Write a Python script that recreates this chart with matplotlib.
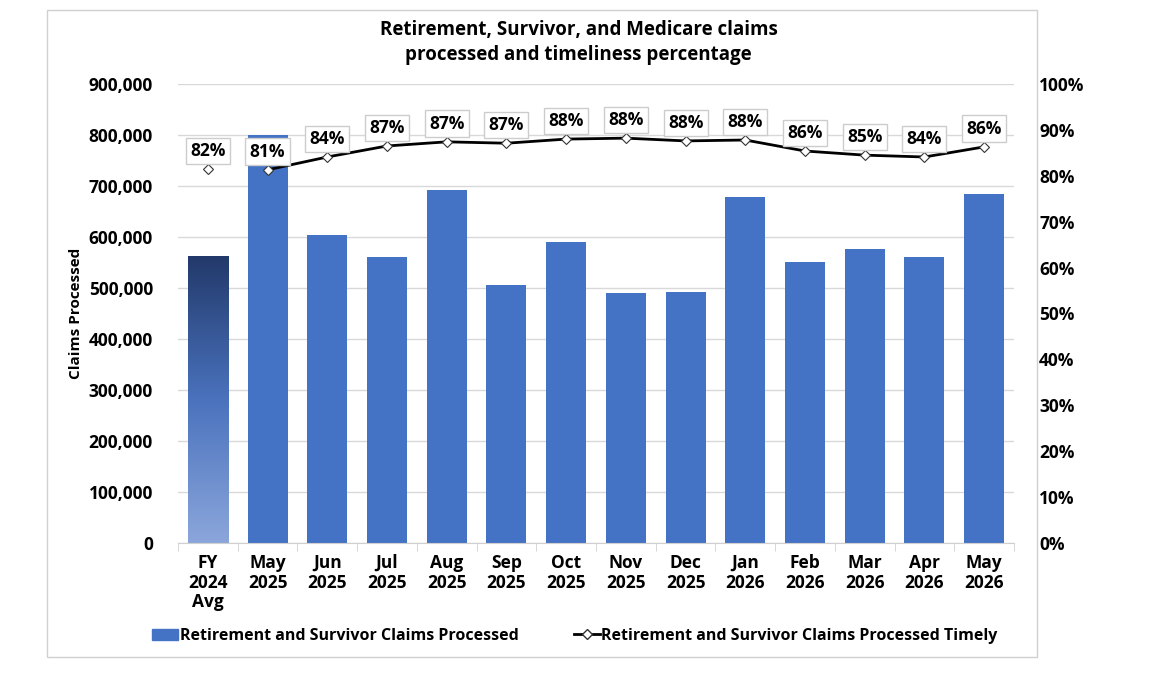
import matplotlib.pyplot as plt
import numpy as np
from matplotlib.patches import Rectangle
from matplotlib.colors import LinearSegmentedColormap
from matplotlib.ticker import FuncFormatter, FixedLocator

plt.rcParams['font.family'] = ['Open Sans', 'DejaVu Sans']

# data
categories = ["FY\n2024\nAvg", "May\n2025", "Jun\n2025", "Jul\n2025", "Aug\n2025", "Sep\n2025",
              "Oct\n2025", "Nov\n2025", "Dec\n2025", "Jan\n2026", "Feb\n2026", "Mar\n2026",
              "Apr\n2026", "May\n2026"]
claims = [563000, 800000, 604000, 561000, 692000, 506000, 590000, 490000, 492000,
          678000, 551000, 576000, 561000, 684000]
timely = [81.5, 81.3, 84.1, 86.5, 87.4, 87.1, 88.0, 88.2, 87.6, 87.8, 85.4, 84.5, 84.1, 86.3]
timely_labels = ["82%", "81%", "84%", "87%", "87%", "87%", "88%", "88%", "88%", "88%",
                 "86%", "85%", "84%", "86%"]

bar_color = "#4472C4"

fig = plt.figure(figsize=(11.57, 6.75), dpi=100)
fig.patches.append(Rectangle((47 / 1157, 1 - 657 / 675), 990 / 1157, 647 / 675,
                             transform=fig.transFigure, fill=False, edgecolor="#d0d0d0", lw=1))

ax = fig.add_axes([178 / 1157, 1 - 543 / 675, 836 / 1157, 459 / 675])
x = np.arange(len(categories))
bars = ax.bar(x, claims, width=0.67, color=bar_color, zorder=2)

# gradient for the FY average bar
b0 = bars[0]
b0.set_facecolor("none")
cmap = LinearSegmentedColormap.from_list("g", ["#8ba6db", "#4a72bd", "#22396a"])
grad = np.linspace(0, 1, 256).reshape(-1, 1)
im = ax.imshow(grad, cmap=cmap, aspect="auto", origin="lower",
               extent=(b0.get_x(), b0.get_x() + b0.get_width(), 0, b0.get_height()), zorder=2)
im.set_clip_path(b0)

ax.set_xlim(-0.5, len(categories) - 0.5)
ax.set_ylim(0, 900000)
ax.set_yticks(np.arange(0, 900001, 100000))
ax.yaxis.set_major_formatter(FuncFormatter(lambda v, p: f"{int(v):,}"))
ax.grid(axis="y", color="#d9d9d9", lw=1, zorder=0)
ax.set_xticks(x)
ax.set_xticklabels(categories, fontsize=12.5, fontweight="bold", linespacing=1.1)
ax.xaxis.set_minor_locator(FixedLocator(np.arange(-0.5, len(categories), 1)))
ax.tick_params(axis="x", which="major", length=0, pad=8)
ax.tick_params(axis="x", which="minor", length=6, color="#d0d0d0")
ax.tick_params(axis="y", length=0, labelsize=12.5, pad=18)
for lab in ax.get_yticklabels():
    lab.set_fontweight("bold")
for s in ["top", "right", "left"]:
    ax.spines[s].set_visible(False)
ax.spines["bottom"].set_color("#d0d0d0")
ax.set_ylabel("Claims Processed", fontsize=11, fontweight="bold", labelpad=4)

ax2 = ax.twinx()
ax2.set_ylim(0, 100)
ax2.set_yticks(np.arange(0, 101, 10))
ax2.yaxis.set_major_formatter(FuncFormatter(lambda v, p: f"{int(v)}%"))
ax2.tick_params(axis="y", length=0, labelsize=12.5, pad=18)
for lab in ax2.get_yticklabels():
    lab.set_fontweight("bold")
for s in ax2.spines.values():
    s.set_visible(False)

ax2.plot(x[1:], timely[1:], color="black", lw=2, zorder=3)
ax2.plot(x, timely, linestyle="none", marker="D", ms=5, mfc="white", mec="#333333",
         mew=0.8, zorder=4)
for xi, t, lab in zip(x, timely, timely_labels):
    ax2.annotate(lab, (xi, t), xytext=(0, 13), textcoords="offset points", ha="center",
                 va="center", fontsize=12.5, fontweight="bold", zorder=5,
                 bbox=dict(boxstyle="square,pad=0.25", fc="white", ec="#cccccc", lw=1))

ax.set_zorder(1)
ax2.set_zorder(2)
ax2.patch.set_visible(False)

fig.text(0.5, 1 - 30 / 675, "Retirement, Survivor, and Medicare claims", ha="center",
         va="center", fontsize=13.5, fontweight="bold")
fig.text(0.5, 1 - 55 / 675, "processed and timeliness percentage", ha="center",
         va="center", fontsize=13.5, fontweight="bold")

h1 = Rectangle((0, 0), 1, 1, color=bar_color)
h2, = plt.plot([], [], color="black", lw=2, marker="D", ms=5, mfc="white", mec="#333333")
fig.legend([h1, h2], ["Retirement and Survivor Claims Processed",
                      "Retirement and Survivor Claims Processed Timely"],
           loc="center", bbox_to_anchor=(0.497, 1 - 636 / 675), ncol=2, frameon=False,
           prop=dict(size=11.5, weight="bold"), handlelength=1.6, handletextpad=0.1,
           columnspacing=3.5)

fig.savefig("out.png", dpi=100)
